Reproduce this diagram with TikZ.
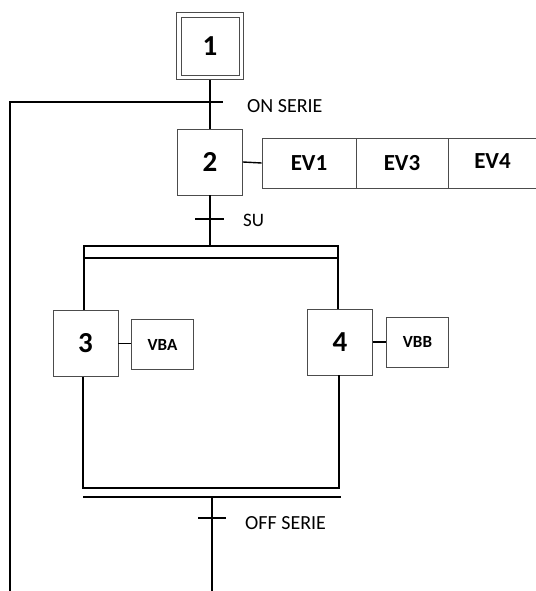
\documentclass[tikz,border=0pt]{standalone}
\usepackage{fontspec}
\setmainfont{Carlito}
\usetikzlibrary{fit,calc}
\begin{document}
\begin{tikzpicture}[x=1pt,y=-1pt,
  stepbox/.style={draw=black!70,line width=0.9pt,minimum width=65pt,minimum height=66pt,inner sep=0pt,font=\fontsize{29}{29}\selectfont\bfseries},
  actbox/.style={draw=black!70,line width=0.9pt,inner sep=0pt,font=\fontsize{23}{23}\selectfont\bfseries},
  smallact/.style={draw=black!70,line width=0.9pt,minimum width=62pt,minimum height=50pt,inner sep=0pt,font=\fontsize{17}{17}\selectfont\bfseries},
  lnk/.style={line width=1.4pt,black},
  lbl/.style={anchor=west,inner sep=0pt,font=\fontsize{20}{20}\selectfont}]
\useasboundingbox (0,0) rectangle (535,591);
% steps
\node[stepbox,minimum width=58pt,minimum height=58pt] (s1) at (210,46) {1};
\node[draw=black!70,line width=0.9pt,fit=(s1),inner sep=4pt] (s1o) {};
\node[stepbox] (s2) at (210,162) {2};
\node[stepbox] (s3) at (85.5,343.5) {3};
\node[stepbox] (s4) at (340,342) {4};
% actions
\node[actbox,minimum width=94pt,minimum height=50pt] (ev1) at (309,163) {EV1};
\node[actbox,minimum width=92pt,minimum height=50pt] (ev3) at (402,163) {EV3};
\node[actbox,minimum width=89pt,minimum height=50pt,text depth=4pt] (ev4) at (492.5,163) {EV4};
\node[smallact] (vba) at (162.5,344.5) {VBA};
\node[smallact] (vbb) at (417.5,342) {VBB};
\draw[lnk] (s2.east) -- (ev1.west);
\draw[lnk] (s3.east) -- (s3.east -| vba.west);
\draw[lnk] (s4.east) -- (s4.east -| vbb.west);
% coordinates
\coordinate (t1) at (210,102);
\coordinate (t2) at (210,219);
\coordinate (dtl) at (84,246);
\coordinate (dtr) at (338,246);
\coordinate (dbl) at (84,258);
\coordinate (dbr) at (338,258);
\coordinate (ctl) at (83,488);
\coordinate (ctr) at (339,488);
\coordinate (cbl) at (83,497);
\coordinate (cbr) at (341,497);
\coordinate (cm) at (212,497);
\coordinate (t3) at (212,518);
\coordinate (bend) at (212,591);
\coordinate (ltop) at (10,102);
\coordinate (lbot) at (10,591);
% links
\draw[lnk] (s1o.south) -- (s2.north);
\draw[lnk] (lbot) -- (ltop) -- ($(t1)+(13,0)$);
\draw[lnk] (s2.south) -- (s2.south |- dtl);
\draw[lnk] ($(t2)+(-15,0)$) -- ($(t2)+(14,0)$);
\draw[lnk] (dbl) -- (dtl) -- (dtr) -- (dbr) -- cycle;
\draw[lnk] (dbl) -- (dbl |- s3.north);
\draw[lnk] (dbr) -- (dbr |- s4.north);
\draw[lnk] (s3.south -| ctl) -- (ctl) -- (ctr) -- (s4.south -| ctr);
\draw[lnk] (cbl) -- (cbr);
\draw[lnk] (cm) -- (bend);
\draw[lnk] ($(t3)+(-14,0)$) -- ($(t3)+(14,0)$);
% labels
\node[lbl] (l1) at (247,106) {ON SERIE};
\node[lbl,font=\fontsize{19}{19}\selectfont] (l2) at (243,220) {SU};
\node[lbl] (l3) at (245,523) {OFF SERIE};
\end{tikzpicture}
\end{document}
